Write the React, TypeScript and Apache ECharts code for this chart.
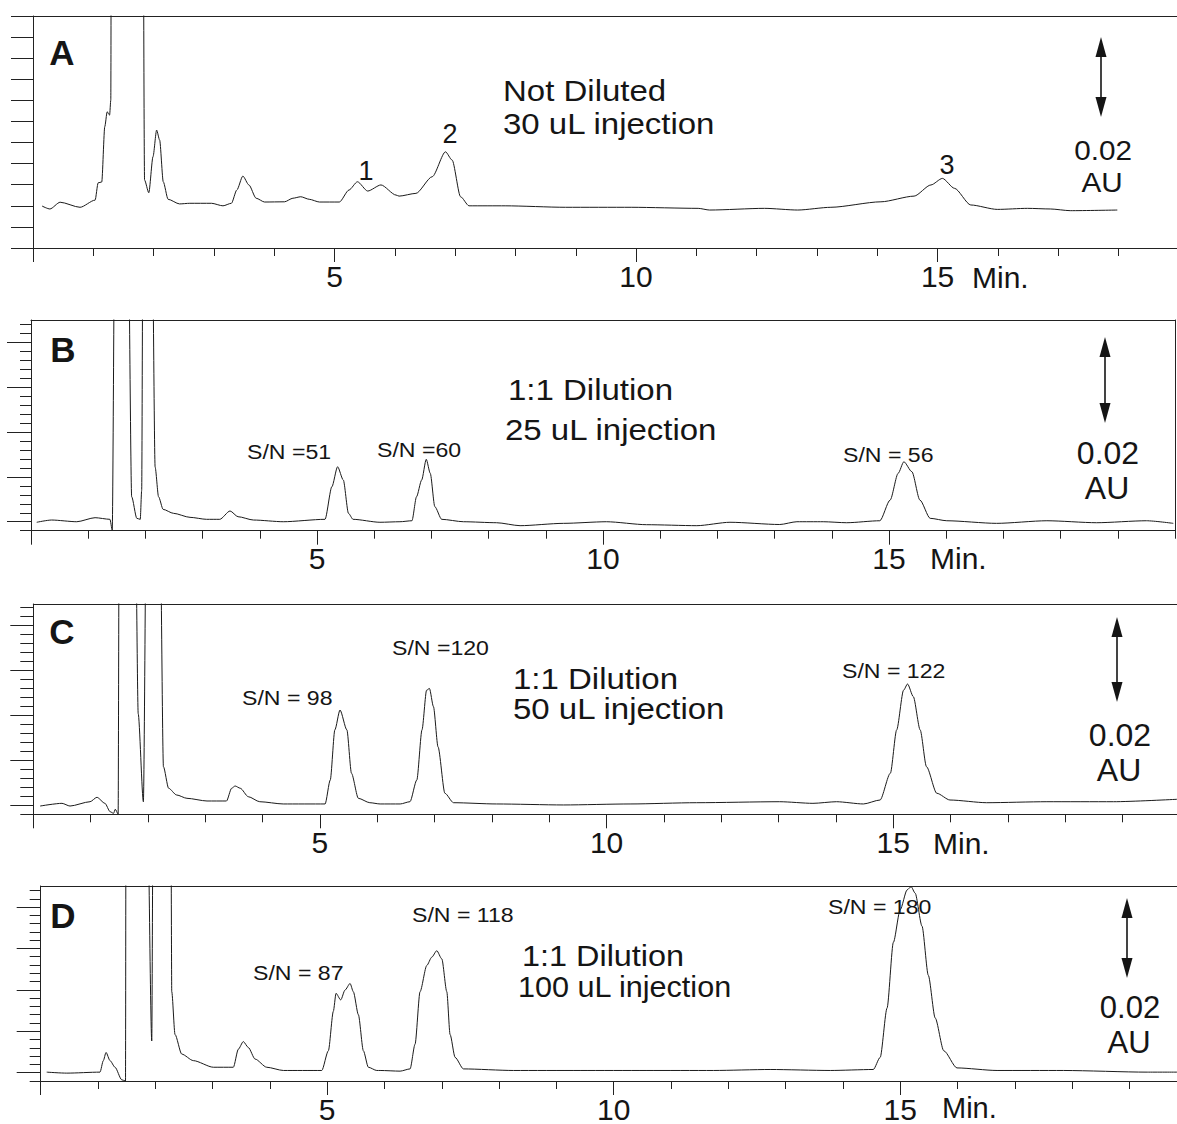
import React, { useEffect, useRef } from 'react';
import * as echarts from 'echarts';

const FONT = "'Liberation Sans', Arial, Helvetica, sans-serif";
const INK = '#151515';
const OFF = 40; // off-scale (clipped) detector response

// ---------- Panel A: not diluted, 30 uL ----------
const timeA = [0.15, 0.28, 0.45, 0.78, 1.03, 1.08, 1.14, 1.19, 1.23, 1.27, 1.29, 1.31, 1.55, 1.80, 1.85, 1.92, 1.99, 2.05, 2.10, 2.16, 2.24, 2.43, 2.60, 2.96, 3.15, 3.29, 3.38, 3.48, 3.58, 3.70, 3.84, 4.17, 4.31, 4.44, 4.58, 4.75, 5.08, 5.24, 5.38, 5.55, 5.77, 6.02, 6.07, 6.35, 6.62, 6.84, 6.95, 7.09, 7.23, 7.83, 8.83, 9.92, 11.03, 11.22, 12.13, 12.68, 13.23, 14.06, 14.61, 14.89, 15.08, 15.28, 15.55, 15.99, 16.49, 16.87, 17.20, 17.98];
const absA = [1.99, 1.85, 2.17, 1.93, 2.27, 3.09, 3.13, 5.75, 6.46, 6.30, 7.01, OFF, OFF, OFF, 3.22, 2.62, 4.33, 5.59, 5.12, 3.14, 2.31, 2.09, 2.12, 2.12, 2.00, 2.12, 2.75, 3.41, 2.99, 2.36, 2.18, 2.19, 2.36, 2.43, 2.31, 2.18, 2.18, 2.75, 3.14, 2.70, 2.99, 2.51, 2.46, 2.59, 3.38, 4.56, 4.17, 2.43, 2.00, 2.00, 1.93, 1.93, 1.88, 1.80, 1.88, 1.80, 1.93, 2.19, 2.46, 2.99, 3.30, 2.83, 2.04, 1.83, 1.88, 1.85, 1.77, 1.80];

// ---------- Panel B: 1:1 dilution, 25 uL ----------
const timeB = [0.10, 0.36, 0.80, 1.12, 1.38, 1.42, 1.47, 1.69, 1.76, 1.85, 1.91, 1.935, 1.96, 2.11, 2.17, 2.23, 2.31, 2.49, 2.78, 3.07, 3.30, 3.48, 3.62, 3.89, 4.41, 5.14, 5.26, 5.36, 5.46, 5.55, 5.63, 6.10, 6.45, 6.66, 6.74, 6.83, 6.91, 6.98, 7.06, 7.18, 7.56, 8.14, 8.55, 9.31, 10.06, 10.76, 11.64, 12.22, 13.09, 13.39, 13.85, 14.26, 14.84, 15.02, 15.16, 15.26, 15.40, 15.54, 15.72, 16.01, 16.88, 17.76, 18.63, 19.50, 19.97];
const absB = [0.94, 1.19, 1.00, 1.45, 1.27, 0.08, OFF, OFF, 3.79, 1.38, 1.27, 4.50, OFF, OFF, 7.10, 3.79, 2.38, 1.94, 1.49, 1.27, 1.27, 2.20, 1.56, 1.19, 1.00, 1.27, 4.90, 7.13, 5.65, 1.94, 1.27, 0.94, 1.00, 1.11, 3.79, 5.65, 7.96, 6.40, 2.68, 1.27, 1.00, 0.89, 0.56, 0.82, 1.00, 0.67, 0.56, 0.94, 0.69, 1.00, 1.00, 0.89, 1.11, 3.42, 6.40, 7.69, 6.58, 3.42, 1.38, 1.11, 0.82, 1.11, 0.89, 1.11, 0.82];

// ---------- Panel C: 1:1 dilution, 50 uL ----------
const timeC = [0.12, 0.50, 0.64, 0.99, 1.11, 1.25, 1.34, 1.40, 1.43, 1.48, 1.50, 1.77, 1.83, 1.92, 1.98, 2.20, 2.27, 2.36, 2.50, 2.68, 3.03, 3.37, 3.46, 3.52, 3.61, 3.75, 3.95, 4.36, 5.09, 5.18, 5.26, 5.35, 5.47, 5.55, 5.67, 5.87, 6.05, 6.40, 6.57, 6.69, 6.78, 6.86, 6.91, 6.98, 7.06, 7.18, 7.33, 8.08, 9.25, 10.41, 11.57, 13.02, 13.60, 14.01, 14.48, 14.77, 14.95, 15.06, 15.18, 15.25, 15.35, 15.47, 15.58, 15.76, 15.99, 16.63, 17.68, 18.84, 19.95];
const absC = [0.92, 1.22, 0.92, 1.40, 1.89, 1.22, 0.29, 0.11, 0.56, 0.03, OFF, OFF, 11.2, 1.40, OFF, OFF, 5.30, 2.90, 2.15, 1.78, 1.48, 1.48, 2.90, 3.15, 2.90, 1.96, 1.40, 1.15, 1.15, 3.82, 9.39, 11.6, 9.39, 4.57, 1.78, 1.29, 1.15, 1.15, 1.40, 3.82, 9.39, 13.8, 14.0, 11.98, 7.50, 2.34, 1.29, 1.15, 1.04, 1.15, 1.29, 1.40, 1.22, 1.40, 1.15, 1.59, 4.57, 9.39, 13.8, 14.5, 13.1, 9.39, 5.30, 2.34, 1.59, 1.29, 1.40, 1.40, 1.67];

// ---------- Panel D: 1:1 dilution, 100 uL ----------
const timeD = [0.105, 0.454, 1.035, 1.093, 1.14, 1.21, 1.297, 1.414, 1.48, 1.489, 1.85, 1.938, 1.965, 2.269, 2.287, 2.344, 2.461, 2.664, 3.013, 3.362, 3.449, 3.536, 3.624, 3.741, 3.945, 4.235, 4.905, 5.02, 5.107, 5.154, 5.236, 5.311, 5.399, 5.456, 5.544, 5.631, 5.718, 5.865, 5.923, 6.272, 6.446, 6.533, 6.62, 6.738, 6.825, 6.912, 7.0, 7.087, 7.144, 7.232, 7.377, 8.25, 9.413, 10.58, 11.74, 12.73, 13.78, 14.53, 14.65, 14.77, 14.88, 15.0, 15.12, 15.19, 15.26, 15.38, 15.49, 15.61, 15.76, 15.99, 16.69, 17.85, 19.31, 19.83];
const absD = [1.07, 0.95, 1.07, 2.46, 3.45, 2.46, 1.66, 0.15, 0.0, OFF, OFF, 4.84, OFF, OFF, 10.8, 5.62, 3.25, 2.46, 1.66, 1.66, 3.84, 4.76, 4.04, 2.65, 1.66, 1.27, 1.27, 3.65, 8.41, 10.58, 9.79, 10.98, 11.77, 10.78, 8.0, 3.65, 1.66, 1.27, 1.27, 1.19, 1.46, 4.44, 10.78, 13.95, 14.95, 15.73, 14.74, 10.78, 5.62, 2.85, 1.46, 1.27, 1.27, 1.27, 1.27, 1.39, 1.27, 1.39, 2.85, 8.8, 16.73, 20.69, 23.07, 23.46, 22.68, 18.7, 12.76, 7.61, 3.65, 1.58, 1.27, 1.27, 1.07, 1.07];

// ---------- Texts ----------
const panelLetters = ['A', 'B', 'C', 'D'];
const conditionLines = [
  ['Not Diluted', '30 uL injection'],
  ['1:1 Dilution', '25 uL injection'],
  ['1:1 Dilution', '50 uL injection'],
  ['1:1 Dilution', '100 uL injection'],
];
const peakNumbers = ['1', '2', '3'];
const snB = ['S/N =51', 'S/N =60', 'S/N = 56'];
const snC = ['S/N = 98', 'S/N =120', 'S/N = 122'];
const snD = ['S/N = 87', 'S/N = 118', 'S/N = 180'];
const scaleText = ['0.02', 'AU'];
const xLabelTicks = [5, 10, 15];
const unitLabel = 'Min.';

const pairs = (t: number[], v: number[]) => t.map((x, i) => [x, v[i]]);
const range = (a: number, b: number) => { const r: number[] = []; for (let i = a; i <= b; i++) r.push(i); return r; };

function txt(text: string, x: number, y: number, size: number, o: any = {}) {
  const align = o.align || 'left';
  return {
    type: 'text', x, y, scaleX: o.sx || 1, silent: true,
    style: {
      text, fontSize: size, fontFamily: FONT, fontWeight: o.bold ? 'bold' : 'normal', fill: INK,
      align, verticalAlign: 'middle', textAlign: align, textVerticalAlign: 'middle',
    },
  };
}

function arrow(x: number, y1: number, y2: number) {
  return [
    { type: 'line', silent: true, shape: { x1: x, y1: y1 + 15, x2: x, y2: y2 - 15 }, style: { stroke: INK, lineWidth: 1.6 } },
    { type: 'polygon', silent: true, shape: { points: [[x, y1], [x - 5.5, y1 + 20], [x + 5.5, y1 + 20]] }, style: { fill: INK } },
    { type: 'polygon', silent: true, shape: { points: [[x, y2], [x - 5.5, y2 - 20], [x + 5.5, y2 - 20]] }, style: { fill: INK } },
  ];
}

// Panels A, C and D are open on the right; B has a right frame line.
const panels = [
  { left: 33, top: 16, width: 1144, height: 232, xMax: 18.97, yMax: 11, data: pairs(timeA, absA), rightFrame: false },
  { left: 31, top: 320, width: 1144, height: 210.7, xMax: 20, yMax: 23.5, data: pairs(timeB, absB), rightFrame: true },
  { left: 33.3, top: 604, width: 1143.7, height: 210.3, xMax: 19.95, yMax: 23.4, data: pairs(timeC, absC), rightFrame: false },
  { left: 40.7, top: 886, width: 1136.3, height: 198, xMax: 19.83, yMax: 23.54, data: pairs(timeD, absD), rightFrame: false },
];
const yMinorLen = [22, 11, 13, 11];
const yMajorLen = [22, 24, 23, 24];
const yMajorTicks = [1, 6, 11, 16, 21];
const FRAME = { show: true, onZero: false, lineStyle: { color: '#222', width: 1 } };

function buildOption() {
  const grid: any[] = [];
  const xAxis: any[] = [];
  const yAxis: any[] = [];
  const series: any[] = [];
  panels.forEach((p, i) => {
    grid.push({ left: p.left, top: p.top, width: p.width, height: p.height, show: false, containLabel: false });
    const xBase = { type: 'value', gridIndex: i, min: 0, max: p.xMax, position: 'bottom', splitLine: { show: false } };
    const minorIdx = xAxis.length;
    xAxis.push({
      ...xBase, interval: 1, axisLine: FRAME,
      axisTick: { show: true, length: 8, customValues: range(0, Math.floor(p.xMax)), lineStyle: { color: '#222', width: 1 } },
      axisLabel: { show: false },
    });
    xAxis.push({
      ...xBase, interval: 5, axisLine: { show: false },
      axisTick: { show: true, length: 14, customValues: [0, 5, 10, 15], lineStyle: { color: '#222', width: 1 } },
      axisLabel: {
        show: true, customValues: xLabelTicks, margin: 13, fontSize: 30, lineHeight: 30, fontFamily: FONT, color: INK,
        formatter: (v: number) => (v % 5 === 0 && v > 0 && v < 16 ? String(v) : ''),
      },
    });
    // top frame line
    xAxis.push({
      type: 'value', gridIndex: i, min: 0, max: p.xMax, position: 'top', axisLine: FRAME,
      axisTick: { show: false }, axisLabel: { show: false }, splitLine: { show: false },
    });
    const yBase = { type: 'value', gridIndex: i, min: 0, max: p.yMax, position: 'left', splitLine: { show: false }, axisLabel: { show: false } };
    const yMinorIdx = yAxis.length;
    if (i === 0) {
      yAxis.push({ ...yBase, interval: 1, axisLine: FRAME, axisTick: { show: true, length: yMinorLen[i], customValues: range(0, 11), lineStyle: { color: '#222', width: 1 } } });
    } else {
      yAxis.push({ ...yBase, interval: 1, axisLine: FRAME, axisTick: { show: true, length: yMinorLen[i], customValues: range(0, 23), lineStyle: { color: '#222', width: 1 } } });
      yAxis.push({ ...yBase, interval: 5, axisLine: { show: false }, axisTick: { show: true, length: yMajorLen[i], customValues: yMajorTicks, lineStyle: { color: '#222', width: 1 } } });
    }
    if (p.rightFrame) {
      yAxis.push({
        type: 'value', gridIndex: i, min: 0, max: p.yMax, position: 'right', axisLine: FRAME,
        axisTick: { show: false }, axisLabel: { show: false }, splitLine: { show: false },
      });
    }
    series.push({
      type: 'line', xAxisIndex: minorIdx, yAxisIndex: yMinorIdx, data: p.data,
      showSymbol: false, symbol: 'none', smooth: 0.25, smoothMonotone: 'x', clip: true, silent: true,
      lineStyle: { color: '#1a1a1a', width: 1 },
    });
  });

  const g: any[] = [];
  // panel letters
  g.push(txt(panelLetters[0], 62, 52, 35, { bold: true, align: 'center' }));
  g.push(txt(panelLetters[1], 63, 349, 35, { bold: true, align: 'center' }));
  g.push(txt(panelLetters[2], 62, 631, 35, { bold: true, align: 'center' }));
  g.push(txt(panelLetters[3], 63, 915, 35, { bold: true, align: 'center' }));
  // conditions
  g.push(txt(conditionLines[0][0], 503, 91, 30, { sx: 1.1 }));
  g.push(txt(conditionLines[0][1], 503, 124, 30, { sx: 1.1 }));
  g.push(txt(conditionLines[1][0], 508, 390, 30, { sx: 1.1 }));
  g.push(txt(conditionLines[1][1], 505, 430, 30, { sx: 1.1 }));
  g.push(txt(conditionLines[2][0], 513, 679, 30, { sx: 1.1 }));
  g.push(txt(conditionLines[2][1], 513, 709, 30, { sx: 1.1 }));
  g.push(txt(conditionLines[3][0], 522, 956, 30, { sx: 1.08 }));
  g.push(txt(conditionLines[3][1], 518, 987, 30, { sx: 1.02 }));
  // peak numbers in A
  g.push(txt(peakNumbers[0], 366, 171, 27, { align: 'center' }));
  g.push(txt(peakNumbers[1], 450, 134, 27, { align: 'center' }));
  g.push(txt(peakNumbers[2], 947, 165, 27, { align: 'center' }));
  // S/N labels
  g.push(txt(snB[0], 247, 452, 21, { sx: 1.1 }));
  g.push(txt(snB[1], 377, 450, 21, { sx: 1.1 }));
  g.push(txt(snB[2], 843, 455, 21, { sx: 1.1 }));
  g.push(txt(snC[0], 242, 698, 21, { sx: 1.1 }));
  g.push(txt(snC[1], 392, 648, 21, { sx: 1.1 }));
  g.push(txt(snC[2], 842, 671, 21, { sx: 1.1 }));
  g.push(txt(snD[0], 253, 973, 21, { sx: 1.1 }));
  g.push(txt(snD[1], 412, 915, 21, { sx: 1.1 }));
  g.push(txt(snD[2], 828, 907, 21, { sx: 1.1 }));
  // scale bars
  g.push(...arrow(1101, 37, 117));
  g.push(txt(scaleText[0], 1103, 150, 28, { align: 'center', sx: 1.06 }));
  g.push(txt(scaleText[1], 1102, 182, 28, { align: 'center', sx: 1.06 }));
  g.push(...arrow(1105, 337, 423));
  g.push(txt(scaleText[0], 1108, 453, 32, { align: 'center' }));
  g.push(txt(scaleText[1], 1107, 488, 32, { align: 'center' }));
  g.push(...arrow(1117, 617, 702));
  g.push(txt(scaleText[0], 1120, 735, 32, { align: 'center' }));
  g.push(txt(scaleText[1], 1119, 770, 32, { align: 'center' }));
  g.push(...arrow(1127, 898, 978));
  g.push(txt(scaleText[0], 1130, 1007, 31, { align: 'center' }));
  g.push(txt(scaleText[1], 1129, 1042, 31, { align: 'center' }));
  // "Min." unit labels
  g.push(txt(unitLabel, 972, 277, 30));
  g.push(txt(unitLabel, 930, 558, 30));
  g.push(txt(unitLabel, 933, 843, 30));
  g.push(txt(unitLabel, 942, 1108, 29));

  return {
    animation: false,
    backgroundColor: '#ffffff',
    textStyle: { fontFamily: FONT },
    grid, xAxis, yAxis, series,
    graphic: { elements: g },
  };
}

export default function App() {
  const ref = useRef<HTMLDivElement>(null);
  useEffect(() => {
    if (!ref.current) return;
    const chart = echarts.init(ref.current, null, { renderer: 'svg' });
    chart.setOption(buildOption() as any);
    return () => chart.dispose();
  }, []);
  return <div ref={ref} style={{ position: 'absolute', left: 0, top: 0, width: 1177, height: 1124, background: '#fff', overflow: 'hidden' }} />;
}
